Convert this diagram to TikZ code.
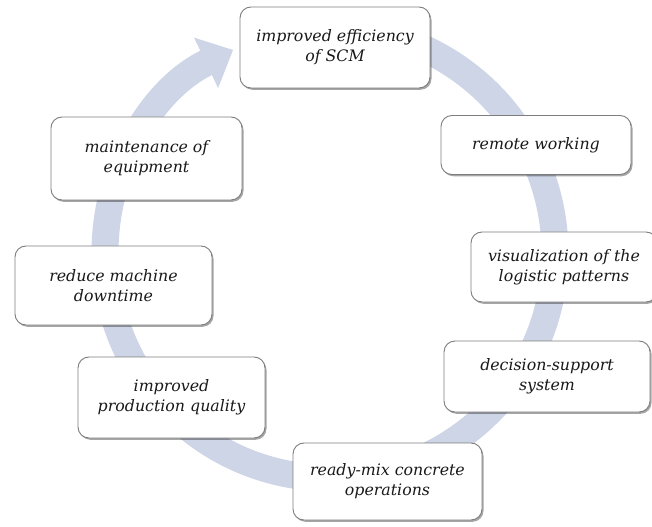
\documentclass[tikz,border=0pt]{standalone}
\usepackage{fontspec}
\setmainfont{DejaVu Serif}
\usetikzlibrary{arrows.meta,shadows}
\definecolor{arcblue}{RGB}{205,213,230}
\definecolor{boxline}{RGB}{125,125,125}
\tikzset{
  cyclebox/.style={draw=boxline, line width=0.9bp, fill=white, rounded corners=11bp,
    align=center, inner sep=0pt, text=black!90, font=\fontsize{15.8bp}{20bp}\selectfont\itshape,
    drop shadow={shadow xshift=1.5bp, shadow yshift=-1.8bp, fill=black, opacity=0.35}},
  ring/.style={line width=27bp, draw=arcblue, -{Triangle[width=54bp,length=30bp]}}
}
\begin{document}
\begin{tikzpicture}[x=1bp,y=-1bp]
\useasboundingbox (0,0) rectangle (652,527);
\coordinate (c) at (330,253);
\draw[ring] (c) ++(-95:225) arc[start angle=-95, end angle=244.5, radius=225];
\node[cyclebox, minimum width=190bp, minimum height=81bp] (scm) at (335,47.5) {improved efficiency\\of SCM};
\node[cyclebox, minimum width=190bp, minimum height=59bp] (remote) at (536,145) {remote working};
\node[cyclebox, minimum width=186bp, minimum height=70bp] (vis) at (564,267) {visualization of the\\logistic patterns};
\node[cyclebox, minimum width=206bp, minimum height=71bp] (dss) at (547,376.5) {decision-support\\system};
\node[cyclebox, minimum width=189bp, minimum height=77bp] (rmc) at (387.5,481.5) {ready-mix concrete\\operations};
\node[cyclebox, minimum width=187bp, minimum height=81bp] (quality) at (171.5,397.5) {improved\\production quality};
\node[cyclebox, minimum width=197bp, minimum height=79bp] (downtime) at (113.5,285.5) {reduce machine\\downtime};
\node[cyclebox, minimum width=191bp, minimum height=83bp] (maint) at (146.5,158.5) {maintenance of\\equipment};
\end{tikzpicture}
\end{document}
